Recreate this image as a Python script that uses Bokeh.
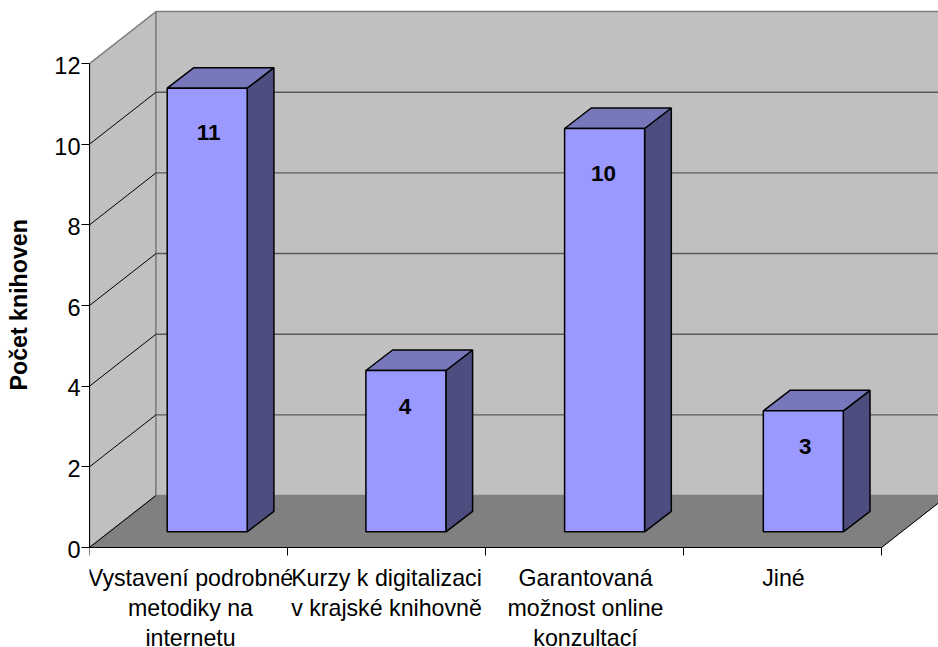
from bokeh.plotting import figure
from bokeh.models import LinearAxis, FixedTicker, Range1d, Title
from bokeh.core.properties import value
from bokeh.embed import file_html
from bokeh.resources import INLINE

categories = ["Vystavení podrobné\nmetodiky na\ninternetu",
              "Kurzy k digitalizaci\nv krajské knihovně",
              "Garantovaná\nmožnost online\nkonzultací",
              "Jiné"]
counts = [11, 4, 10, 3]
y_ticks = [0, 2, 4, 6, 8, 10, 12]
y_title = "Počet knihoven"

PX_X = 198.0      # px per category
PX_Y = 40.33      # px per value unit
WALL_DX = 66.5 / PX_X
WALL_DY = 52.0 / PX_Y
BAR_STEP = 198.7 / PX_X
BAR_X0 = 77.7 / PX_X
BAR_W = 80.0 / PX_X
BAR_Y0 = 15.7 / PX_Y
BAR_DX = 26.7 / PX_X
BAR_DY = 20.5 / PX_Y
LABEL_DROP = [44, 36, 45, 36]
LABEL_SHIFT = [1.5, -1, -1, 2]
CAT_SHIFT = [2, 0, 1, 1]
CAT_FIRST_LINE = 30.0 / PX_Y
CAT_LINE_PITCH = 30.0 / PX_Y
TICK_LABEL_DROP = 1.8 / PX_Y
FONT = "Liberation Sans"
YMAX = y_ticks[-1]
N = len(categories)

p = figure(width=938, height=647, output_backend="svg", toolbar_location=None,
           x_axis_location=None, y_axis_location=None,
           x_range=Range1d(0, (938 - 89) / PX_X),
           y_range=Range1d(-100 / PX_Y, 547 / PX_Y),
           min_border_left=89, min_border_right=0, min_border_top=0, min_border_bottom=0,
           background_fill_color="white", outline_line_color=None)
p.grid.visible = False

# walls and floor
p.patch([0, WALL_DX, WALL_DX, 0], [0, WALL_DY, YMAX + WALL_DY, YMAX],
        fill_color="#C0C0C0", line_color="#808080", line_width=1.5)
xr = N + WALL_DX + 0.2
p.patch([WALL_DX, xr, xr, WALL_DX], [WALL_DY, WALL_DY, YMAX + WALL_DY, YMAX + WALL_DY],
        fill_color="#C0C0C0", line_color="#808080", line_width=1.5)
p.patch([0, N, N + WALL_DX, WALL_DX], [0, 0, WALL_DY, WALL_DY],
        fill_color="#808080", line_color="#808080", line_width=1)

# gridlines
for t in y_ticks[1:-1]:
    p.line([0, WALL_DX], [t, t + WALL_DY], line_color="black", line_width=1)
    p.line([WALL_DX, xr], [t + WALL_DY, t + WALL_DY], line_color="#5A5A5A", line_width=1.4)
p.line([0, WALL_DX], [0, WALL_DY], line_color="black", line_width=1)
p.line([N, N + WALL_DX], [0, WALL_DY], line_color="black", line_width=1)

# bars
for i, v in enumerate(counts):
    x0 = i * BAR_STEP + BAR_X0
    x1 = x0 + BAR_W
    y0 = BAR_Y0
    y1 = y0 + v
    p.patch([x1, x1 + BAR_DX, x1 + BAR_DX, x1], [y0, y0 + BAR_DY, y1 + BAR_DY, y1],
            fill_color="#4D4D80", line_color="black", line_width=1.5)
    p.patch([x0, x1, x1 + BAR_DX, x0 + BAR_DX], [y1, y1, y1 + BAR_DY, y1 + BAR_DY],
            fill_color="#7777BB", line_color="black", line_width=1.5)
    p.patch([x0, x1, x1, x0], [y0, y0, y1, y1],
            fill_color="#9999FF", line_color="black", line_width=1.5)
    p.text([x0 + BAR_W / 2 + LABEL_SHIFT[i] / PX_X], [y1 - LABEL_DROP[i] / PX_Y], text=[str(v)],
           text_font=value(FONT), text_font_style="bold", text_font_size="22.5px",
           text_align="center", text_baseline="middle", text_color="black")

# category labels, one text per line
for i, c in enumerate(categories):
    for j, line in enumerate(c.split("\n")):
        p.text([i + 0.5 + CAT_SHIFT[i] / PX_X], [-CAT_FIRST_LINE - j * CAT_LINE_PITCH], text=[line],
               text_font=value(FONT), text_font_size="23.2px",
               text_align="center", text_baseline="middle", text_color="black")

xax = LinearAxis(ticker=FixedTicker(ticks=list(range(N + 1))), fixed_location=0, bounds=(0, N),
                 major_label_overrides={k: "" for k in range(N + 1)},
                 major_tick_in=0, major_tick_out=8,
                 minor_tick_line_color=None, axis_line_color="black", major_tick_line_color="black",
                 axis_line_width=1.2)
p.add_layout(xax, "below")

# axis line and tick marks (inner axis)
yax = LinearAxis(ticker=FixedTicker(ticks=y_ticks), bounds=(0, YMAX),
                 major_label_overrides={t: "" for t in y_ticks},
                 major_label_standoff=0,
                 major_tick_in=0, major_tick_out=8, minor_tick_line_color=None,
                 axis_line_color="black", major_tick_line_color="black")
p.add_layout(yax, "left")

# tick labels sit a little below their tick marks in the reference (outer axis)
label_pos = [t - TICK_LABEL_DROP for t in y_ticks]
ylab = LinearAxis(ticker=FixedTicker(ticks=label_pos),
                  major_label_overrides={lp: str(t) for lp, t in zip(label_pos, y_ticks)},
                  major_tick_in=0, major_tick_out=0, minor_tick_line_color=None,
                  axis_line_color=None,
                  major_label_text_font=FONT, major_label_text_font_size="23.5px",
                  major_label_standoff=1, major_label_text_color="black")
p.add_layout(ylab, "left")

# empty axis that only adds room between the tick labels and the title
spacer = LinearAxis(ticker=FixedTicker(ticks=[0]), major_label_overrides={0: ""},
                    major_tick_in=0, major_tick_out=14, minor_tick_line_color=None,
                    major_tick_line_color=None, axis_line_color=None, major_label_standoff=0)
p.add_layout(spacer, "left")

p.add_layout(Title(text=y_title, align="left", offset=257, standoff=8, vertical_align="top",
                   text_font=FONT, text_font_style="bold", text_font_size="23.2px",
                   text_color="black"), "left")

open("out.html", "w").write(file_html(p, INLINE))
